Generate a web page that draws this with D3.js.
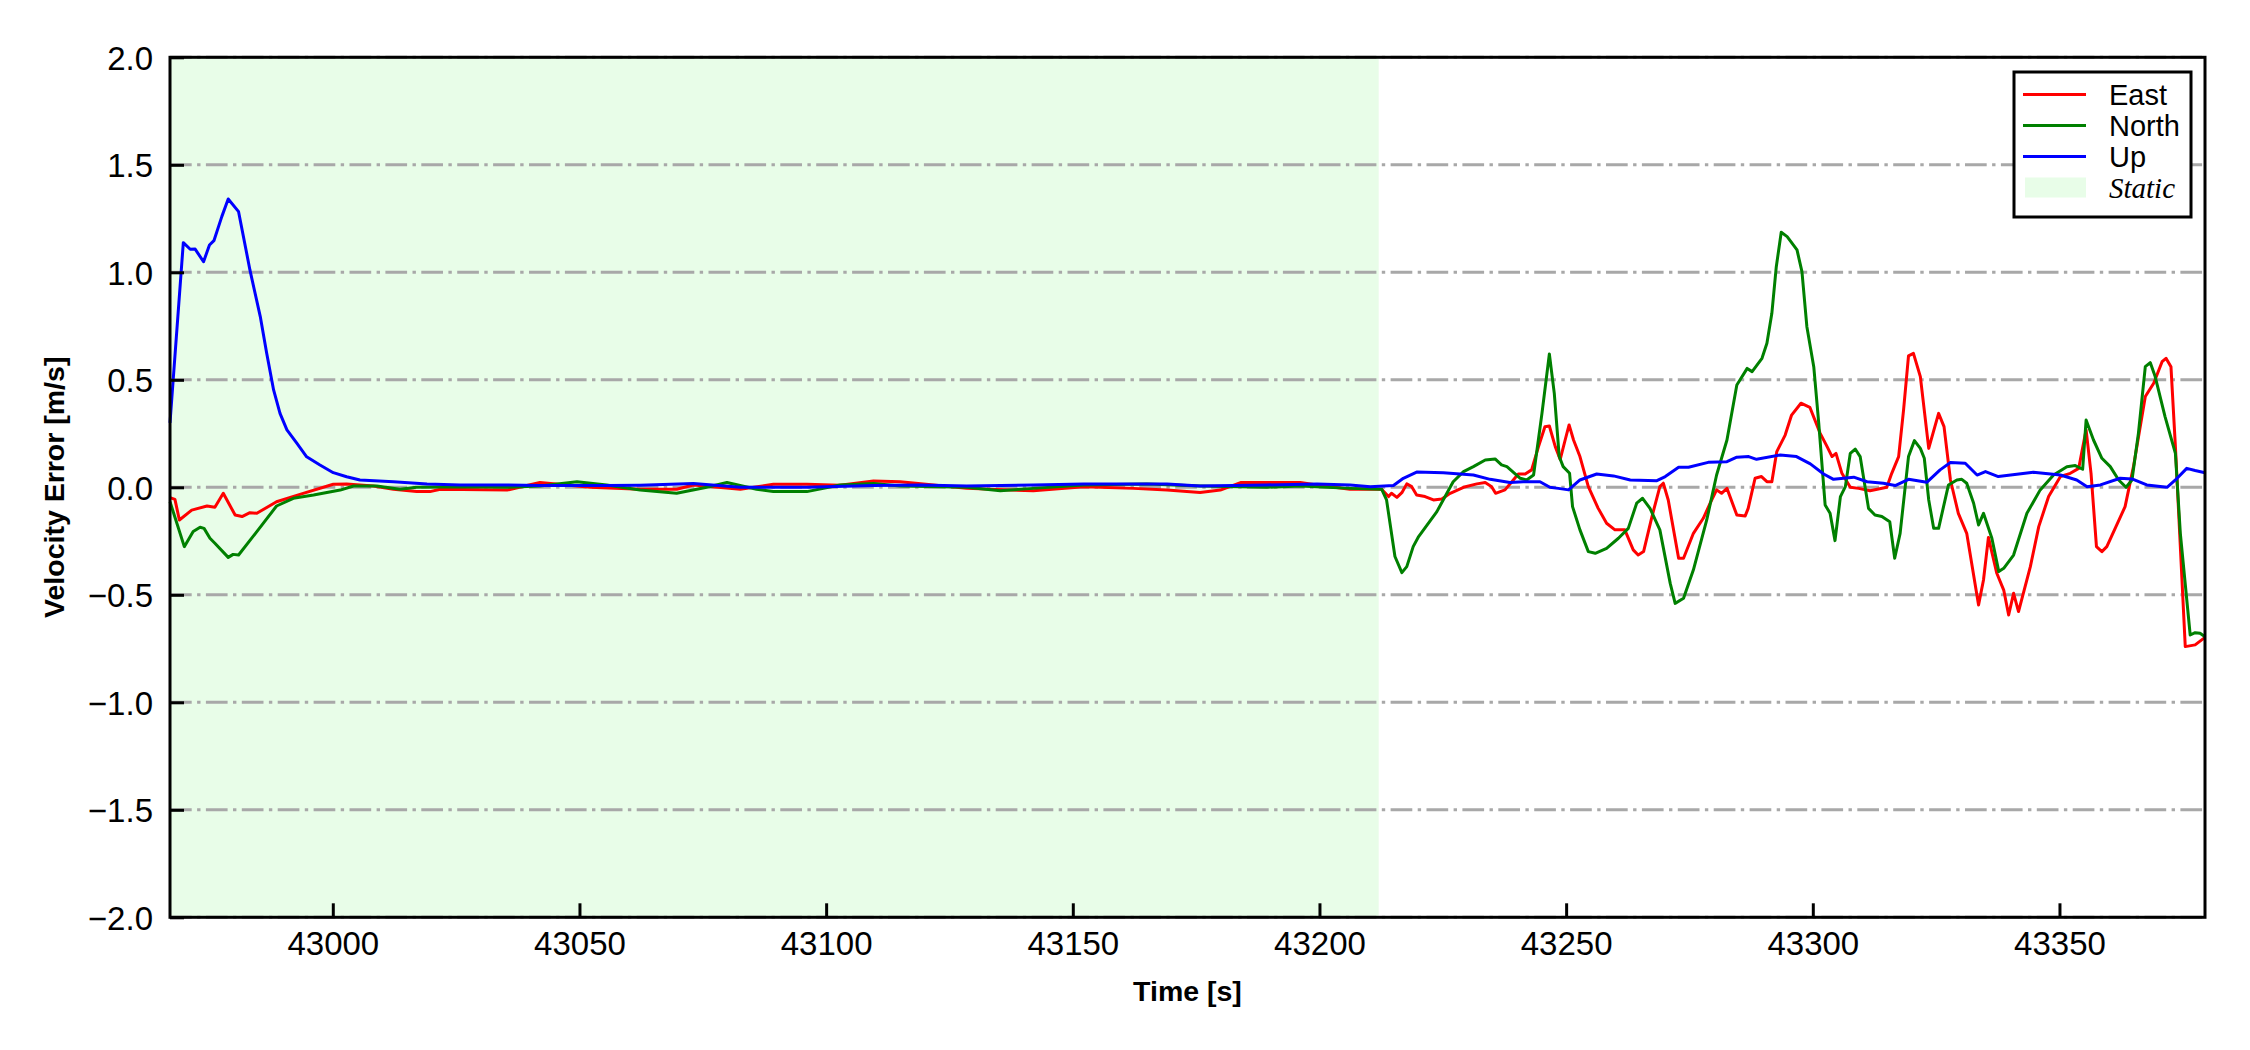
<!DOCTYPE html>
<html>
<head>
<meta charset="utf-8">
<script src="https://cdn.jsdelivr.net/npm/d3@7"></script>
<style>
  html, body { margin: 0; padding: 0; background: #fff; }
  svg { display: block; font-family: "Liberation Sans", Arial, sans-serif; }
</style>
</head>
<body>
<svg width="2250" height="1050"></svg>
<script>
// Velocity error traces (time in s, error in m/s)
const upT = [42967, 42969.7, 42971.1, 42972.1, 42973.8, 42975.0, 42975.9, 42977.5, 42978.8, 42980.9,
  42983.2, 42985.3, 42986.6, 42988.0, 42989.3, 42990.7, 42992.7, 42994.7, 42997.4, 43000.1,
  43002.8, 43005.5, 43012.3, 43019.1, 43025.8,
  43035.3, 43042.0, 43055.5, 43062.3, 43073.1, 43082.6, 43096.1, 43109.6, 43119.1, 43128.5,
  43142.0, 43152.2, 43169.1, 43175.8, 43189.3, 43199.5, 43206.2, 43210.3, 43215.0, 43217.0,
  43219.7, 43225.1, 43231.2, 43234.6, 43238.6, 43241.3, 43244.7, 43246.7, 43248.4, 43250.5,
  43252.8, 43256.2, 43259.6, 43263.0, 43268.4, 43270.1, 43272.8, 43274.8, 43278.8, 43282.6,
  43284.6, 43287.0, 43288.6, 43293.4, 43296.7, 43299.5, 43302.2, 43304.2, 43308.3, 43311.0,
  43314.3, 43316.7, 43319.4, 43323.1, 43325.8, 43327.9, 43330.9, 43333.3, 43335.0, 43337.6,
  43344.7, 43350.2, 43353.5, 43355.6, 43358.3, 43362.3, 43364.7, 43367.7, 43371.8, 43373.5,
  43375.8, 43377.5, 43379.5];
const upV = [0.30, 1.138, 1.107, 1.108, 1.049, 1.127, 1.147, 1.259, 1.341, 1.282,
  1.011, 0.794, 0.623, 0.453, 0.344, 0.267, 0.205, 0.142, 0.104, 0.068,
  0.049, 0.034, 0.026, 0.015, 0.011,
  0.011, 0.008, 0.008, 0.010, 0.018, 0.000, 0.000, 0.008, 0.011, 0.006,
  0.011, 0.015, 0.015, 0.006, 0.011, 0.015, 0.011, 0.003, 0.008, 0.042,
  0.071, 0.068, 0.057, 0.037, 0.022, 0.026, 0.026, 0.000, -0.005, -0.012,
  0.034, 0.062, 0.053, 0.034, 0.031, 0.050, 0.093, 0.093, 0.116, 0.119,
  0.140, 0.143, 0.130, 0.150, 0.143, 0.109, 0.062, 0.037, 0.047, 0.026,
  0.019, 0.008, 0.037, 0.023, 0.081, 0.115, 0.112, 0.057, 0.073, 0.050,
  0.070, 0.057, 0.034, 0.003, 0.011, 0.042, 0.039, 0.011, 0.000, 0.034,
  0.088, 0.078, 0.068];

const eastT = [42967, 42968.0, 42968.9, 42971.4, 42974.5, 42976.1, 42977.8, 42980.2, 42981.6, 42983.2,
  42984.6, 42988.6, 42994.0, 43000.1, 43002.8, 43008.2, 43012.3, 43017.0, 43019.7, 43021.8,
  43035.3, 43042.0, 43052.2, 43062.3, 43069.7, 43073.1, 43082.6, 43089.3, 43096.1, 43102.8,
  43109.6, 43115.0, 43121.8, 43128.5, 43142.0, 43152.2, 43162.3, 43169.1, 43175.8, 43179.9,
  43184.0, 43196.1, 43199.5, 43206.2, 43212.6, 43214.0, 43214.6, 43215.7, 43216.7, 43217.7,
  43218.7, 43219.7, 43221.4, 43223.1, 43224.8, 43226.5, 43229.2, 43231.9, 43233.6, 43234.9,
  43235.7, 43237.6, 43239.0, 43240.3, 43241.7, 43243.0, 43244.4, 43245.7, 43246.6, 43247.8,
  43248.8, 43249.8, 43250.6, 43251.5, 43252.8, 43254.5, 43256.5, 43258.2, 43259.9, 43261.9,
  43263.6, 43264.6, 43265.7, 43267.4, 43269.0, 43269.7, 43270.7, 43272.8, 43273.8, 43275.8,
  43277.8, 43279.2, 43280.5, 43281.5, 43282.6, 43284.6, 43286.3, 43286.9, 43288.3, 43289.6,
  43290.7, 43291.7, 43292.7, 43294.4, 43295.7, 43297.6, 43299.4, 43301.5, 43302.9, 43303.9,
  43304.7, 43305.9, 43307.6, 43309.3, 43311.6, 43315.0, 43316.0, 43317.4, 43318.4, 43319.4,
  43320.4, 43321.8, 43323.5, 43325.5, 43326.6, 43327.9, 43329.5, 43331.2, 43333.6, 43334.6,
  43335.6, 43337.3, 43338.7, 43339.7, 43340.7, 43341.7, 43344.1, 43345.8, 43347.8, 43350.2,
  43352.2, 43353.9, 43355.4, 43356.4, 43357.5, 43358.6, 43359.6, 43363.3, 43365.0, 43367.4,
  43369.1, 43370.8, 43371.6, 43372.6, 43373.5, 43375.5, 43377.5, 43379.5];
const eastV = [-0.048, -0.056, -0.152, -0.106, -0.087, -0.093, -0.028, -0.129, -0.136, -0.118,
  -0.121, -0.067, -0.028, 0.014, 0.015, 0.006, -0.009, -0.020, -0.020, -0.009,
  -0.013, 0.022, 0.000, -0.009, -0.009, 0.011, -0.009, 0.014, 0.014, 0.010,
  0.029, 0.026, 0.011, -0.005, -0.016, 0.003, -0.005, -0.013, -0.024, -0.013,
  0.022, 0.022, 0.011, -0.009, -0.009, -0.043, -0.028, -0.047, -0.025, 0.016,
  0.003, -0.036, -0.043, -0.059, -0.054, -0.028, 0.000, 0.016, 0.022, 0.003,
  -0.028, -0.012, 0.026, 0.062, 0.062, 0.081, 0.189, 0.282, 0.285, 0.189,
  0.130, 0.220, 0.290, 0.220, 0.143, 0.003, -0.098, -0.167, -0.198, -0.198,
  -0.291, -0.315, -0.299, -0.136, 0.003, 0.019, -0.059, -0.330, -0.330, -0.214,
  -0.144, -0.074, -0.012, -0.028, -0.005, -0.129, -0.133, -0.098, 0.042, 0.050,
  0.026, 0.026, 0.166, 0.243, 0.336, 0.391, 0.372, 0.251, 0.189, 0.143,
  0.158, 0.065, 0.000, -0.005, -0.016, 0.000, 0.065, 0.143, 0.360, 0.611,
  0.623, 0.515, 0.181, 0.344, 0.282, 0.034, -0.121, -0.214, -0.547, -0.431,
  -0.233, -0.400, -0.478, -0.594, -0.493, -0.578, -0.369, -0.183, -0.043, 0.050,
  0.065, 0.088, 0.267, 0.065, -0.276, -0.299, -0.276, -0.090, 0.096, 0.422,
  0.484, 0.584, 0.600, 0.561, 0.189, -0.741, -0.733, -0.698];

const northT = [42967, 42969.9, 42971.7, 42973.1, 42973.9, 42975.1, 42976.1, 42978.8, 42979.8, 42980.9,
  42984.6, 42988.6, 42992.0, 42996.1, 43001.5, 43004.2, 43008.9, 43013.6, 43017.0, 43025.8,
  43035.3, 43042.0, 43049.5, 43055.5, 43062.3, 43069.7, 43075.8, 43079.9, 43085.9, 43089.3,
  43096.1, 43102.8, 43109.6, 43115.0, 43128.5, 43135.3, 43142.0, 43152.2, 43165.0, 43175.8,
  43189.3, 43196.1, 43206.2, 43212.6, 43213.6, 43215.3, 43216.7, 43217.7, 43219.0, 43220.1,
  43223.8, 43227.1, 43229.2, 43231.2, 43233.6, 43235.6, 43236.9, 43238.0, 43240.7, 43242.0,
  43243.4, 43245.1, 43246.6, 43247.6, 43248.6, 43249.4, 43250.7, 43251.3, 43252.8, 43254.5,
  43255.9, 43258.2, 43260.6, 43262.6, 43264.3, 43265.5, 43267.0, 43269.0, 43271.1, 43272.1,
  43273.8, 43275.8, 43278.5, 43280.5, 43282.6, 43284.6, 43286.7, 43287.7, 43289.7, 43290.7,
  43291.7, 43292.6, 43293.6, 43294.8, 43296.8, 43297.8, 43298.8, 43300.2, 43301.2, 43302.5,
  43303.5, 43304.5, 43305.6, 43306.6, 43307.6, 43308.6, 43309.6, 43311.3, 43312.6, 43314.0,
  43315.6, 43316.6, 43317.7, 43319.4, 43320.6, 43321.8, 43322.6, 43323.5, 43324.5, 43325.5,
  43327.5, 43329.2, 43330.2, 43331.2, 43332.6, 43333.6, 43334.6, 43336.3, 43337.7, 43338.7,
  43340.7, 43343.4, 43346.1, 43348.8, 43351.5, 43353.2, 43354.7, 43355.4, 43356.9, 43358.6,
  43360.3, 43362.0, 43363.5, 43364.7, 43366.0, 43367.4, 43368.4, 43369.4, 43371.4, 43373.5,
  43374.5, 43376.5, 43377.5, 43378.5, 43379.5];
const northV = [-0.067, -0.276, -0.206, -0.186, -0.191, -0.237, -0.260, -0.326, -0.312, -0.315,
  -0.206, -0.087, -0.051, -0.036, -0.013, 0.006, 0.006, -0.009, 0.000, 0.003,
  0.000, 0.006, 0.026, 0.011, -0.013, -0.028, 0.000, 0.022, -0.009, -0.020,
  -0.020, 0.011, 0.018, 0.006, 0.000, -0.016, -0.005, 0.011, 0.015, 0.006,
  0.000, 0.006, -0.005, -0.009, -0.059, -0.322, -0.397, -0.369, -0.276, -0.229,
  -0.113, 0.026, 0.073, 0.096, 0.127, 0.132, 0.104, 0.096, 0.042, 0.034,
  0.057, 0.344, 0.620, 0.437, 0.143, 0.096, 0.065, -0.090, -0.198, -0.299,
  -0.307, -0.284, -0.237, -0.191, -0.074, -0.051, -0.098, -0.198, -0.447, -0.540,
  -0.516, -0.384, -0.152, 0.057, 0.220, 0.476, 0.553, 0.538, 0.600, 0.670,
  0.809, 1.026, 1.186, 1.166, 1.104, 1.003, 0.747, 0.560, 0.300, -0.082,
  -0.121, -0.248, -0.043, 0.003, 0.158, 0.178, 0.143, -0.098, -0.129, -0.136,
  -0.160, -0.330, -0.214, 0.143, 0.217, 0.181, 0.135, -0.059, -0.191, -0.191,
  0.011, 0.034, 0.037, 0.019, -0.074, -0.175, -0.121, -0.237, -0.392, -0.377,
  -0.315, -0.121, -0.012, 0.057, 0.096, 0.101, 0.084, 0.313, 0.220, 0.135,
  0.096, 0.034, 0.000, 0.034, 0.251, 0.561, 0.580, 0.515, 0.329, 0.158,
  -0.214, -0.687, -0.676, -0.679, -0.695];

const staticEnd = 43212;
const xTicks = [43000, 43050, 43100, 43150, 43200, 43250, 43300, 43350];
const yTicks = [-2.0, -1.5, -1.0, -0.5, 0.0, 0.5, 1.0, 1.5, 2.0];
const legendItems = ["East", "North", "Up", "Static"];
const seriesColors = ["#ff0000", "#008000", "#0000ff"];

// plot area in page pixels
const margin = { top: 57.3, right: 45, bottom: 132.7, left: 170 };
const width = 2250 - margin.left - margin.right;
const height = 1050 - margin.top - margin.bottom;

const svg = d3.select("svg");
const g = svg.append("g")
    .attr("transform", "translate(" + margin.left + "," + margin.top + ")");

const x = d3.scaleLinear().domain([42967, 43379.5]).range([0, width]);
const y = d3.scaleLinear().domain([-2, 2]).range([height, 0]);

// static period shading
g.append("rect")
    .attr("x", 0)
    .attr("y", 0)
    .attr("width", x(staticEnd))
    .attr("height", height)
    .attr("fill", "#e8fde8");

// horizontal dash-dot grid
g.selectAll(".grid")
    .data(yTicks)
    .enter().append("line")
    .attr("class", "grid")
    .attr("x1", 0)
    .attr("x2", width)
    .attr("y1", d => y(d))
    .attr("y2", d => y(d))
    .attr("stroke", "#a8a8a8")
    .attr("stroke-width", 3)
    .attr("stroke-dasharray", "21.7,5.4,3.4,5.4");

// the traces
const line = d3.line()
    .x(d => x(d[0]))
    .y(d => y(d[1]));

const series = [
    d3.zip(eastT, eastV),
    d3.zip(northT, northV),
    d3.zip(upT, upV)
];

series.forEach((s, i) => {
    g.append("path")
        .datum(s)
        .attr("fill", "none")
        .attr("stroke", seriesColors[i])
        .attr("stroke-width", 3)
        .attr("stroke-linejoin", "round")
        .attr("d", line);
});

// axes with inward ticks
const xAxis = g.append("g")
    .attr("transform", "translate(0," + height + ")")
    .call(d3.axisBottom(x).tickValues(xTicks).tickFormat(d3.format("d"))
        .tickSizeInner(-14).tickSizeOuter(0).tickPadding(14.3));

const yAxis = g.append("g")
    .call(d3.axisLeft(y).tickValues(yTicks).tickFormat(d3.format(".1f"))
        .tickSizeInner(-14).tickSizeOuter(0).tickPadding(17));

[xAxis, yAxis].forEach(a => {
    a.select(".domain").remove();
    a.selectAll(".tick line").attr("stroke", "#000").attr("stroke-width", 3);
    a.selectAll(".tick text")
        .attr("fill", "#000")
        .style("font-family", "'Liberation Sans', Arial, sans-serif")
        .style("font-size", "33px");
});
yAxis.selectAll(".tick text").attr("dy", "0.36em");

// frame
g.append("rect")
    .attr("width", width)
    .attr("height", height)
    .attr("fill", "none")
    .attr("stroke", "#000")
    .attr("stroke-width", 3);

// axis labels
svg.append("text")
    .attr("x", margin.left + width / 2)
    .attr("y", 1001)
    .attr("text-anchor", "middle")
    .style("font-size", "28.5px")
    .style("font-weight", "bold")
    .text("Time [s]");

svg.append("text")
    .attr("transform", "translate(64," + (margin.top + height / 2) + ") rotate(-90)")
    .attr("text-anchor", "middle")
    .style("font-size", "28.5px")
    .style("font-weight", "bold")
    .text("Velocity Error [m/s]");

// legend
const legend = svg.append("g").attr("transform", "translate(2014,72)");
legend.append("rect")
    .attr("width", 177)
    .attr("height", 145)
    .attr("fill", "#fff")
    .attr("stroke", "#000")
    .attr("stroke-width", 3);

legendItems.forEach((name, i) => {
    const cy = 22.5 + i * 31;
    if (i < 3) {
        legend.append("line")
            .attr("x1", 9).attr("x2", 72)
            .attr("y1", cy).attr("y2", cy)
            .attr("stroke", seriesColors[i])
            .attr("stroke-width", 3);
    } else {
        legend.append("rect")
            .attr("x", 11).attr("y", cy - 10)
            .attr("width", 61).attr("height", 20)
            .attr("fill", "#e8fde8");
    }
    legend.append("text")
        .attr("x", 95)
        .attr("y", cy)
        .attr("dy", "0.35em")
        .style("font-size", "29px")
        .style("font-family", i < 3 ? "'Liberation Sans', Arial, sans-serif" : "'Liberation Serif', 'Times New Roman', serif")
        .style("font-style", i < 3 ? "normal" : "italic")
        .text(name);
});
</script>
</body>
</html>
